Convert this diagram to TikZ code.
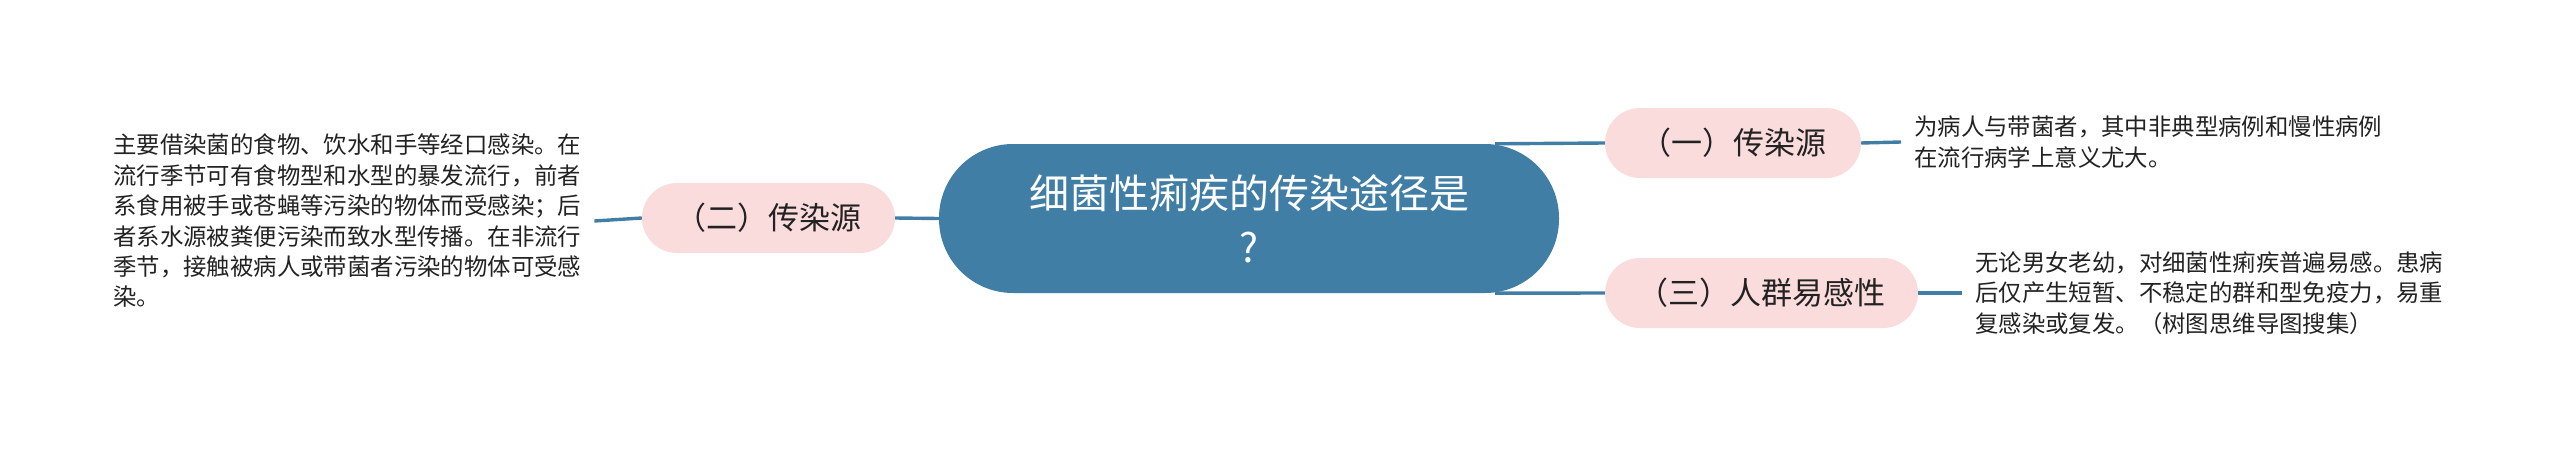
\documentclass[tikz,border=0pt]{standalone}
\usepackage{fontspec}
\setmainfont{Noto Sans CJK SC}
\usepackage{tikz}
\usetikzlibrary{calc}
\definecolor{topicblue}{RGB}{64,126,166}
\definecolor{branchpink}{RGB}{251,220,220}
\definecolor{inkgray}{RGB}{34,34,34}

\begin{document}
\begin{tikzpicture}[
    x=1pt,y=-1pt,
    topic/.style={rectangle,rounded corners=74pt,fill=topicblue,text=white,minimum width=620pt,minimum height=149pt,inner sep=0pt,align=center,font=\fontsize{40}{54}\selectfont},
    branch/.style={rectangle,rounded corners=35pt,fill=branchpink,text=inkgray,minimum height=70pt,inner sep=0pt,align=center,font=\fontsize{31}{36}\selectfont},
    leaf/.style={inner sep=0pt,inner xsep=13pt,align=left,text=inkgray,font=\fontsize{23.4}{30.4}\selectfont},
    link/.style={draw=topicblue,line width=3.4pt}
  ]
    \useasboundingbox (0,0) rectangle (2560,453);
    \node[topic] (root) at (1249,218.5) {细菌性痢疾的传染途径是\\?};
    \node[branch,minimum width=256pt] (source) at (1733,143) {（一）传染源};
    \node[branch,minimum width=253pt] (route) at (768.5,218) {（二）传染源};
    \node[branch,minimum width=313pt] (crowd) at (1761.5,293) {（三）人群易感性};
    \node[leaf,anchor=west] (sourcetext) at (1901,142) {为病人与带菌者，其中非典型病例和慢性病例\\在流行病学上意义尤大。};
    \node[leaf,anchor=west] (routetext) at (100,221) {主要借染菌的食物、饮水和手等经口感染。在\\流行季节可有食物型和水型的暴发流行，前者\\系食用被手或苍蝇等污染的物体而受感染；后\\者系水源被粪便污染而致水型传播。在非流行\\季节，接触被病人或带菌者污染的物体可受感\\染。};
    \node[leaf,anchor=west] (crowdtext) at (1962,293) {无论男女老幼，对细菌性痢疾普遍易感。患病\\后仅产生短暂、不稳定的群和型免疫力，易重\\复感染或复发。（树图思维导图搜集）};

    \draw[link] ($(root.north east)+(-64,0)$) -- (source.west);
    \draw[link] ($(root.south east)+(-64,0)$) -- (crowd.west);
    \draw[link] (root.west) -- (route.east);
    \draw[link] (source.east) -- (sourcetext.west);
    \draw[link] (crowd.east) -- (crowdtext.west);
    \draw[link] (route.west) -- (routetext.east);
  \end{tikzpicture}
\end{document}
